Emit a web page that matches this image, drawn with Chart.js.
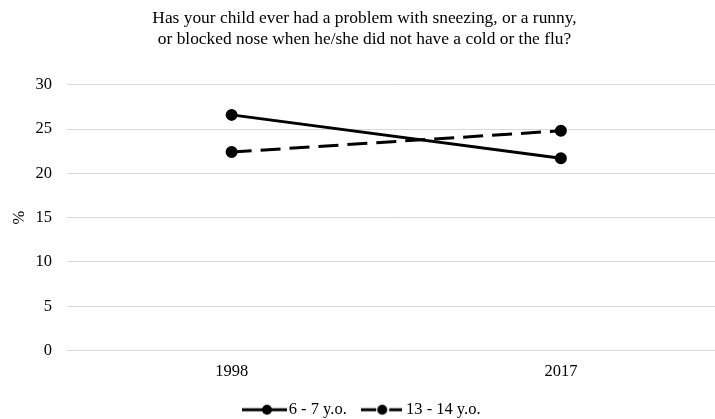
<!DOCTYPE html>
<html>
<head>
<meta charset="utf-8">
<script src="https://cdn.jsdelivr.net/npm/chart.js@4.4.0/dist/chart.umd.min.js"></script>
<style>
  html, body { margin: 0; padding: 0; background: #fff; overflow: hidden; }
  #wrap { width: 715px; height: 419px; overflow: hidden; }
</style>
</head>
<body>
<div id="wrap"><canvas id="chart" width="733" height="428" style="width:733px;height:428px"></canvas></div>
<script>
const years = ["1998", "2017"];
const age6to7 = [26.6, 21.7];
const age13to14 = [22.4, 24.8];
const yTicks = [0, 5, 10, 15, 20, 25, 30];

const serif = "'Liberation Serif', 'Times New Roman', serif";

// legend marker: line with a dot in the middle (dashed one is two short dashes)
function legendMarker(dashed) {
  const w = dashed ? 41 : 45;
  const c = document.createElement("canvas");
  c.width = w;
  c.height = 12;
  const g = c.getContext("2d");
  g.strokeStyle = "#000";
  g.lineWidth = 3;
  g.beginPath();
  if (dashed) {
    g.moveTo(0, 6); g.lineTo(15, 6);
    g.moveTo(28, 6); g.lineTo(41, 6);
  } else {
    g.moveTo(0, 6); g.lineTo(w, 6);
  }
  g.stroke();
  g.fillStyle = "#000";
  g.beginPath();
  g.arc(dashed ? 21 : 25, 6, 5, 0, Math.PI * 2);
  g.fill();
  return c;
}
const markers = [legendMarker(false), legendMarker(true)];

const data = {
  labels: years,
  datasets: [
    {
      label: "6 - 7 y.o.",
      data: age6to7,
      borderColor: "#000",
      backgroundColor: "#000",
      borderWidth: 3,
      pointRadius: 4.5,
      pointHoverRadius: 4.5,
    },
    {
      label: "13 - 14 y.o.",
      data: age13to14,
      borderColor: "#000",
      backgroundColor: "#000",
      borderWidth: 3,
      borderDash: [20, 9],
      pointRadius: 4.5,
      pointHoverRadius: 4.5,
    },
  ],
};

const config = {
  type: "line",
  data: data,
  options: {
    responsive: false,
    animation: false,
    layout: { padding: { left: 0, right: 4, top: 8, bottom: 0 } },
    plugins: {
      tooltip: { enabled: false },
      title: {
        display: true,
        text: [
          "Has your child ever had a problem with sneezing, or a runny,",
          "or blocked nose when he/she did not have a cold or the flu?",
        ],
        color: "#000",
        font: { family: serif, size: 17.4, weight: "normal", lineHeight: 1.2 },
        padding: { top: 0, bottom: 35 },
      },
      legend: {
        position: "bottom",
        labels: {
          color: "#000",
          font: { family: serif, size: 16.5 },
          usePointStyle: true,
          pointStyleWidth: 32,
          boxHeight: 12,
          padding: 19,
          generateLabels: (chart) =>
            chart.data.datasets.map((ds, i) => ({
              text: ds.label,
              pointStyle: markers[i],
              fillStyle: "#000",
              strokeStyle: "#000",
              lineWidth: 0,
              datasetIndex: i,
              fontColor: "#000",
            })),
        },
      },
    },
    scales: {
      x: {
        offset: true,
        afterFit: (axis) => {
          axis.height = 32;
        },
        grid: { display: false, drawTicks: false },
        border: { display: false },
        ticks: { color: "#000", font: { family: serif, size: 16.5 }, padding: 11 },
      },
      y: {
        min: 0,
        max: 30,
        afterBuildTicks: (axis) => {
          axis.ticks = yTicks.map((v) => ({ value: v }));
        },
        afterFit: (axis) => {
          axis.width = 67;
        },
        grid: { color: "#d9d9d9", lineWidth: 1, drawTicks: false },
        border: { display: false },
        ticks: { color: "#000", font: { family: serif, size: 16.5 }, padding: 15 },
        title: {
          display: true,
          text: "%",
          color: "#000",
          font: { family: serif, size: 16.5 },
          padding: { top: 10, bottom: 0 },
        },
      },
    },
  },
};

new Chart(document.getElementById("chart"), config);
</script>
</body>
</html>
